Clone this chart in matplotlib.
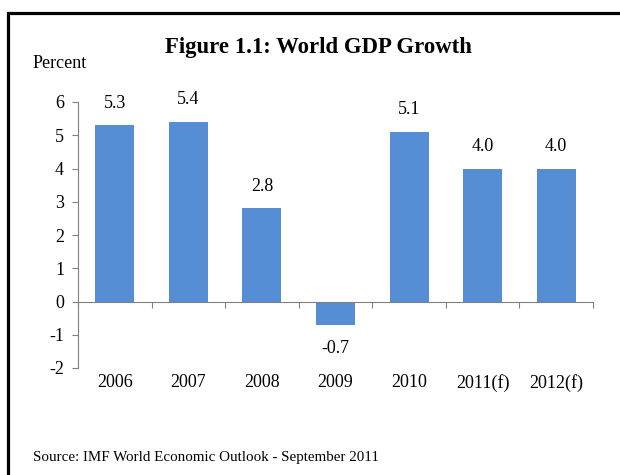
import matplotlib
matplotlib.use("Agg")
import matplotlib.pyplot as plt
from matplotlib.patches import Rectangle

# World GDP growth, percent
years = ["2006", "2007", "2008", "2009", "2010", "2011(f)", "2012(f)"]
growth = [5.3, 5.4, 2.8, -0.7, 5.1, 4.0, 4.0]

plt.rcParams['font.family'] = ['Liberation Serif', 'DejaVu Serif']
plt.rcParams['axes.unicode_minus'] = False

fig = plt.figure(figsize=(6.2, 4.75), dpi=100)
ax = fig.add_axes([78/620, 1-368/475, (593-78)/620, (368-102)/475])

x = list(range(len(years)))
ax.bar(x, growth, width=0.53, color='#558ED5', zorder=2)

for i, v in enumerate(growth):
    off = 16 if v >= 0 else -17
    ax.annotate("%.1f" % v, (i, v), textcoords="offset points", xytext=(0, off),
                ha='center', va='center', fontsize=13)

ax.set_xlim(-0.5, len(years) - 0.5)
ax.set_ylim(-2, 6)
ax.set_yticks(range(-2, 7))
ax.tick_params(axis='y', labelsize=13, length=4, color='#808080', pad=6)

# category axis sits on zero, tick marks between bars
ax.spines['bottom'].set_position(('data', 0))
ax.set_xticks([i + 0.5 for i in range(-1, len(years))])
ax.set_xticklabels([])
ax.tick_params(axis='x', length=4, color='#808080', direction='out')
for sp in ['top', 'right']:
    ax.spines[sp].set_visible(False)
for sp in ['left', 'bottom']:
    ax.spines[sp].set_color('#808080')

for i, lab in enumerate(years):
    ax.text(i, -2.45, lab, ha='center', va='center', fontsize=13)

fig.text(318/620, 1-47/475, "Figure 1.1: World GDP Growth", ha='center', va='center',
         fontsize=16.4, fontweight='bold')
fig.text(33/620, 1-63/475, "Percent", ha='left', va='center', fontsize=13)
fig.text(33/620, 1-457/475, "Source: IMF World Economic Outlook - September 2011",
         ha='left', va='center', fontsize=10.8)

# frame round the figure
fig.add_artist(Rectangle((7.5/620, -0.2), 1.2, 1.2 - 12.5/475, transform=fig.transFigure,
                         fill=False, edgecolor='black', linewidth=2.3, clip_on=False))

fig.savefig("out.png", dpi=100)
